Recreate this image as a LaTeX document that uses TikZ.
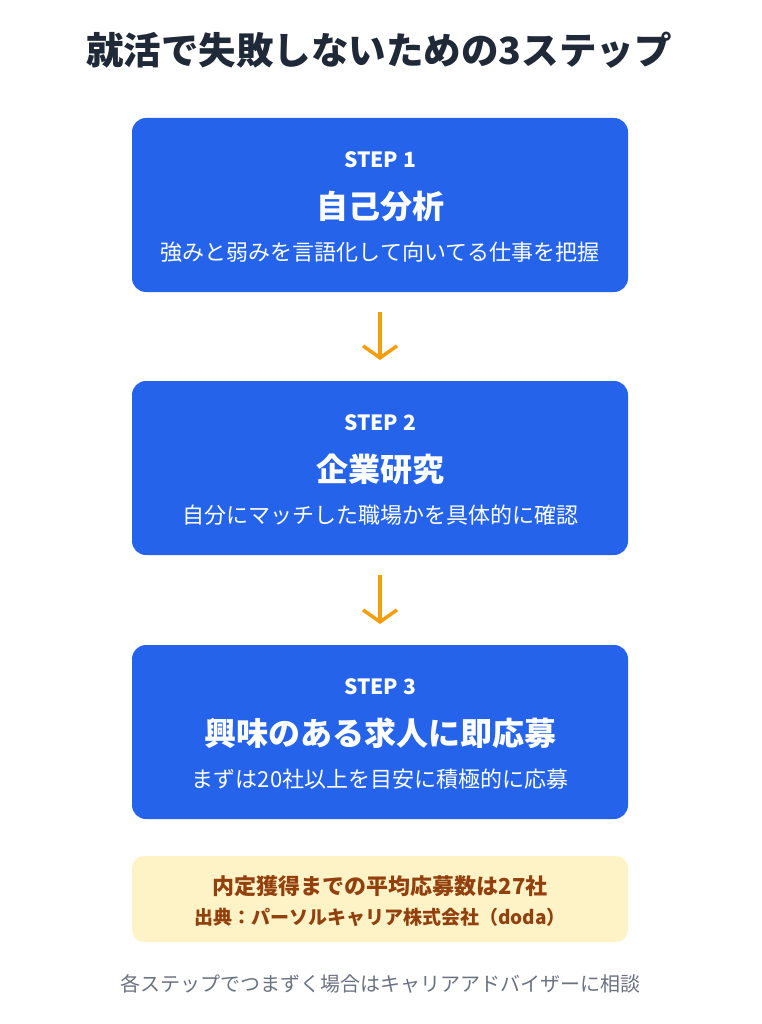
\documentclass[tikz,border=0pt]{standalone}
\usetikzlibrary{arrows.meta}
\usepackage{fontspec}
\setmainfont{Noto Sans CJK JP}
\definecolor{bx}{HTML}{2563EB}
\definecolor{ar}{HTML}{F59E0B}
\definecolor{yb}{HTML}{FEF3C7}
\definecolor{br}{HTML}{92400E}
\definecolor{gr}{HTML}{6B7280}
\definecolor{tt}{HTML}{1F2937}
\begin{document}
\begin{tikzpicture}[x=1pt,y=-1pt,
 box/.style={fill=bx,rounded corners=14pt},
 lab/.style={text=white,font=\bfseries\fontsize{21}{24}\selectfont},
 ttl/.style={text=white,font=\bfseries\fontsize{32}{36}\selectfont},
 sub/.style={text=white,font=\fontsize{22}{26}\selectfont},
 arr/.style={draw=ar,line width=3.5pt,-{Straight Barb[length=12pt,width=34pt]}}]
\useasboundingbox (0,0) rectangle (761,1024);
\fill[white] (0,0) rectangle (761,1024);
\node[text=tt,font=\bfseries\fontsize{37.5}{42}\selectfont] (title) at (379,50) {就活で失敗しないための3ステップ};
\foreach \i/\y/\t/\s in {1/118/自己分析/強みと弱みを言語化して向いてる仕事を把握,2/381/企業研究/自分にマッチした職場かを具体的に確認,3/645/興味のある求人に即応募/まずは20社以上を目安に積極的に応募}{
 \fill[box] (132,\y) rectangle (628,\y+174);
 \node[lab] (l\i) at (380,\y+42) {STEP \i};
 \node[ttl] (t\i) at (380,\y+88) {\t};
 \node[sub] (s\i) at (380,\y+134) {\s};
}
\coordinate (a1) at (380,312); \coordinate (b1) at (380,360);
\coordinate (a2) at (380,575); \coordinate (b2) at (380,624);
\draw[arr] (a1) -- (b1);
\draw[arr] (a2) -- (b2);
\fill[yb,rounded corners=12pt] (132,856) rectangle (628,942);
\node[text=br,font=\bfseries\fontsize{22}{24}\selectfont] (y1) at (380,886) {内定獲得までの平均応募数は27社};
\node[text=br,font=\bfseries\fontsize{19}{22}\selectfont] (y2) at (380,917) {出典：パーソルキャリア株式会社（doda）};
\node[text=gr,font=\fontsize{20}{24}\selectfont] (ft) at (380,984) {各ステップでつまずく場合はキャリアアドバイザーに相談};
\end{tikzpicture}
\end{document}
